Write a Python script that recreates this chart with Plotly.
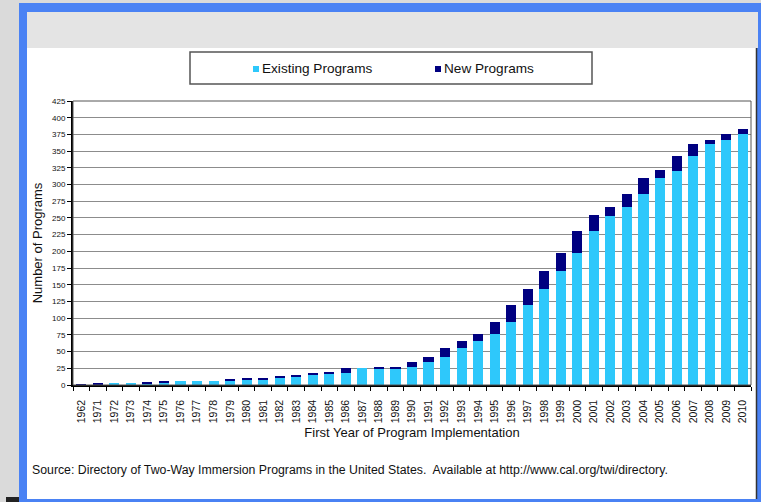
import plotly.graph_objects as go

years = ["1962"] + [str(y) for y in range(1971, 2011)]
existing = [0, 1, 2, 2, 2, 4, 6, 6, 6, 6, 8, 8, 10, 13, 15, 17, 18, 25, 25, 25,
            27, 35, 42, 56, 66, 76, 94, 120, 144, 170, 197, 230, 253, 267, 286,
            310, 321, 343, 361, 366, 375]
new = [1, 1, 0, 0, 2, 2, 0, 0, 0, 2, 2, 2, 3, 2, 2, 2, 7, 0, 1, 2,
       8, 7, 14, 10, 10, 18, 26, 24, 26, 27, 33, 24, 14, 19, 24,
       12, 22, 18, 5, 9, 8]
series_names = ["Existing Programs", "New Programs"]
series_colors = ["#2EC8FB", "#000080"]

W, H = 761, 502
L, R, T, B = 73, 751, 101, 385


def xp(px):
    return (px - L) / (R - L)


def yp(py):
    return (B - py) / (B - T)


fig = go.Figure()
for name, vals, col in zip(series_names, [existing, new], series_colors):
    fig.add_trace(go.Bar(x=years, y=vals, name=name,
                         marker=dict(color=col, line=dict(width=0))))

shapes = [
    # blue frame
    dict(type="rect", xref="paper", yref="paper", x0=xp(19), x1=xp(762), y0=yp(503), y1=yp(3),
         fillcolor="#4A82F4", line=dict(width=0), layer="below"),
    # grey strip inside frame
    dict(type="rect", xref="paper", yref="paper", x0=xp(27), x1=xp(758), y0=yp(48), y1=yp(12),
         fillcolor="#E4E4E4", line=dict(width=0), layer="below"),
    # white panel
    dict(type="rect", xref="paper", yref="paper", x0=xp(27), x1=xp(756), y0=yp(499), y1=yp(48),
         fillcolor="white", line=dict(width=0), layer="below"),
    # dark edge on the right of the panel
    dict(type="line", xref="paper", yref="paper", x0=xp(756.5), x1=xp(756.5), y0=yp(499), y1=yp(48),
         line=dict(color="#333333", width=1.5), layer="below"),
    # dark block at bottom-left corner
    dict(type="rect", xref="paper", yref="paper", x0=xp(6), x1=xp(19), y0=yp(503), y1=yp(497),
         fillcolor="#222222", line=dict(width=0), layer="below"),
    # legend box
    dict(type="rect", xref="paper", yref="paper", x0=xp(190), x1=xp(592), y0=yp(84), y1=yp(52),
         fillcolor="rgba(0,0,0,0)", line=dict(color="#555555", width=1.5)),
    # plot frame (top and right)
    dict(type="rect", xref="paper", yref="paper", x0=0, x1=1, y0=0, y1=1,
         fillcolor="rgba(0,0,0,0)", line=dict(color="#555555", width=1)),
]

annotations = [
    dict(text="Source: Directory of Two-Way Immersion Programs in the United States.  "
              "Available at http://www.cal.org/twi/directory.",
         xref="paper", yref="paper", x=xp(30), y=yp(470), xanchor="left", yanchor="middle",
         showarrow=False, font=dict(size=12.3, color="#111111")),
]

# legend entries (small square + label), drawn inside the legend box
legend_x = [253, 435]
for name, col, lx in zip(series_names, series_colors, legend_x):
    shapes.append(dict(type="rect", xref="paper", yref="paper",
                       x0=xp(lx), x1=xp(lx + 6), y0=yp(72), y1=yp(66),
                       fillcolor=col, line=dict(width=0)))
    annotations.append(dict(text=name, xref="paper", yref="paper", x=xp(lx + 7), y=yp(69),
                            xanchor="left", yanchor="middle", showarrow=False,
                            font=dict(size=13.6, color="#111111")))

fig.update_layout(
    width=W, height=H,
    margin=dict(l=L, r=W - R, t=T, b=H - B, pad=0),
    barmode="stack", bargap=0.39,
    paper_bgcolor="#DADADA", plot_bgcolor="white",
    font=dict(family="Arial, Liberation Sans, sans-serif", color="#111111"),
    showlegend=False,
    shapes=shapes, annotations=annotations,
    xaxis=dict(type="category", tickangle=-90, tickfont=dict(size=10.5),
               ticks="outside", tickson="boundaries", ticklen=4, tickcolor="black",
               ticklabelstandoff=9,
               showline=True, linecolor="black", linewidth=1.5, showgrid=False,
               title=dict(text="First Year of Program Implementation", font=dict(size=13),
                          standoff=6)),
    yaxis=dict(range=[0, 425], dtick=25, tickfont=dict(size=8), ticks="outside",
               ticklen=4, tickcolor="black", showline=True, linecolor="black", linewidth=2,
               showgrid=True, gridcolor="#8C8C8C", gridwidth=1, zeroline=False,
               title=dict(text="Number of Programs", font=dict(size=13), standoff=6)),
)

fig.write_html("out.html", config={"displayModeBar": False},
               post_script="document.body.style.margin='0';document.body.style.padding='0';")
